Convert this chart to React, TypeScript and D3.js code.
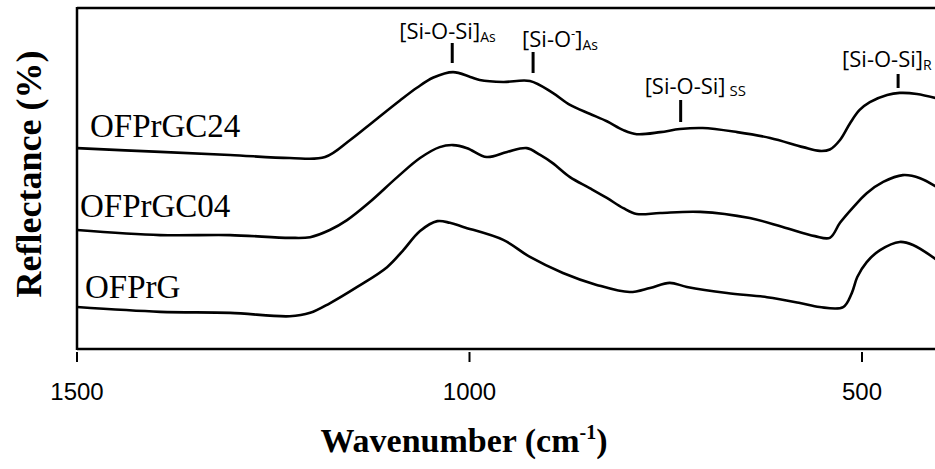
import React from 'react';
import * as d3 from 'd3';

const W = 935;
const H = 469;

// wavenumber (cm-1) / reflectance (arb. units, stacked)
const ofprgc24: [number, number][] = [
  [1500, 58.9], [1394, 57.8], [1305, 56.9], [1229, 56.0], [1184, 56.3], [1152, 61.3],
  [1123, 66.6], [1089, 72.8], [1067, 76.6], [1046, 79.6], [1021, 81.2], [999, 79.8],
  [987, 78.9], [957, 78.3], [923, 78.6], [894, 75.1], [872, 71.6], [847, 69.0],
  [825, 66.8], [804, 64.2], [787, 63.0], [757, 63.6], [732, 64.5], [703, 64.8],
  [659, 63.6], [617, 61.9], [575, 59.2], [554, 58.1], [541, 58.5], [528, 61.3],
  [515, 66.3], [503, 70.1], [490, 72.4], [468, 74.5], [452, 75.1], [430, 74.8], [401, 73.3],
];
const ofprgc04: [number, number][] = [
  [1500, 34.9], [1394, 33.4], [1305, 33.4], [1229, 32.6], [1203, 32.8], [1178, 34.9],
  [1156, 37.8], [1127, 43.1], [1092, 50.4], [1063, 56.0], [1038, 59.2], [1021, 59.8],
  [1003, 58.9], [978, 56.3], [952, 57.8], [927, 58.9], [910, 56.9], [894, 54.5],
  [872, 50.4], [847, 47.2], [825, 44.3], [804, 41.3], [787, 39.6], [757, 39.9],
  [706, 40.2], [643, 38.4], [601, 35.8], [560, 33.1], [541, 32.6], [528, 37.0],
  [511, 41.6], [494, 45.7], [473, 49.0], [448, 51.0], [426, 50.1], [401, 46.9],
];
const ofprg: [number, number][] = [
  [1500, 12.3], [1394, 10.9], [1305, 10.6], [1229, 9.6], [1203, 10.6], [1178, 13.4],
  [1143, 18.2], [1105, 24.0], [1085, 28.8], [1063, 34.6], [1041, 37.5], [1025, 37.0],
  [1008, 35.8], [957, 32.0], [923, 27.0], [881, 22.3], [838, 18.8], [796, 16.7],
  [770, 17.9], [745, 19.4], [723, 18.2], [672, 16.4], [621, 15.2], [579, 13.5],
  [554, 12.3], [524, 12.3], [513, 16.4], [506, 21.1], [494, 25.5], [477, 29.0],
  [452, 31.4], [435, 30.5], [401, 25.5],
];

const seriesNames = ['OFPrGC24', 'OFPrGC04', 'OFPrG'];
const seriesData = [ofprgc24, ofprgc04, ofprg];
const xTicks = [1500, 1000, 500];
const bandWn = [1022, 919, 731, 454];

// label placement (px)
const nameX = [90, 80, 85];
const nameY = [137, 217, 298];

const App = () => {
  const x = d3.scaleLinear().domain([1500, 500]).range([77, 862]);
  const y = d3.scaleLinear().domain([0, 100]).range([349, 8]);
  const line = d3
    .line<[number, number]>()
    .x((d) => x(d[0]))
    .y((d) => y(d[1]))
    .curve(d3.curveCatmullRom.alpha(0.5));

  const bx = bandWn.map((w) => x(w));
  const annFont = { fontFamily: '"Open Sans", sans-serif', fontSize: 22, fill: '#000' };

  return (
    <svg
      width={W}
      height={H}
      viewBox={`0 0 ${W} ${H}`}
      style={{ position: 'absolute', left: 0, top: 0, background: '#fff' }}
    >
      {/* frame */}
      <line x1={x(1500)} x2={W} y1={y(100)} y2={y(100)} stroke="#000" strokeWidth={2.5} />
      <line x1={x(1500)} x2={W} y1={y(0)} y2={y(0)} stroke="#000" strokeWidth={2.5} />
      <line x1={x(1500)} x2={x(1500)} y1={y(100) - 1} y2={y(0) + 1} stroke="#000" strokeWidth={2.5} />

      {xTicks.map((t) => (
        <g key={t}>
          <line x1={x(t)} x2={x(t)} y1={y(0) + 3} y2={y(0) + 13} stroke="#000" strokeWidth={2} />
          <text
            x={x(t)}
            y={400}
            textAnchor="middle"
            style={{ fontFamily: '"Liberation Sans", Arial, sans-serif', fontSize: 24 }}
          >
            {t}
          </text>
        </g>
      ))}

      {seriesData.map((d, i) => (
        <path key={seriesNames[i]} d={line(d) || ''} fill="none" stroke="#000" strokeWidth={2.6} strokeLinejoin="round" />
      ))}

      {seriesNames.map((n, i) => (
        <text key={n} x={nameX[i]} y={nameY[i]} style={{ fontFamily: '"Liberation Serif", "Times New Roman", serif', fontSize: 33 }}>
          {n}
        </text>
      ))}

      {/* band markers */}
      <line x1={bx[0]} x2={bx[0]} y1={43} y2={63} stroke="#000" strokeWidth={3} />
      <line x1={bx[1]} x2={bx[1]} y1={52} y2={73} stroke="#000" strokeWidth={3} />
      <line x1={bx[2]} x2={bx[2]} y1={100} y2={122} stroke="#000" strokeWidth={3} />
      <line x1={bx[3]} x2={bx[3]} y1={74} y2={88} stroke="#000" strokeWidth={3} />

      <text x={bx[0] - 53} y={39} style={annFont}>
        [Si-O-Si]<tspan dy={3} fontSize={14}>As</tspan>
      </text>
      <text x={bx[1] - 11} y={47} style={annFont}>
        [Si-O<tspan dy={-9} fontSize={13}>-</tspan>
        <tspan dy={9}>]</tspan>
        <tspan dy={3} fontSize={14}>As</tspan>
      </text>
      <text x={bx[2] - 36} y={94} style={annFont}>
        [Si-O-Si]<tspan dx={4} dy={2} fontSize={15}>SS</tspan>
      </text>
      <text x={bx[3] - 56} y={67} style={annFont}>
        [Si-O-Si]<tspan dy={3} fontSize={14}>R</tspan>
      </text>

      {/* axis titles */}
      <text
        x={464}
        y={452}
        textAnchor="middle"
        style={{ fontFamily: '"Liberation Serif", "Times New Roman", serif', fontSize: 34, fontWeight: 'bold' }}
      >
        Wavenumber (cm<tspan dy={-13} fontSize={20}>-1</tspan>
        <tspan dy={13}>)</tspan>
      </text>
      <text
        transform="translate(41,174) rotate(-90)"
        textAnchor="middle"
        style={{ fontFamily: '"Liberation Serif", "Times New Roman", serif', fontSize: 36, fontWeight: 'bold' }}
      >
        Reflectance (%)
      </text>
    </svg>
  );
};

export default App;
